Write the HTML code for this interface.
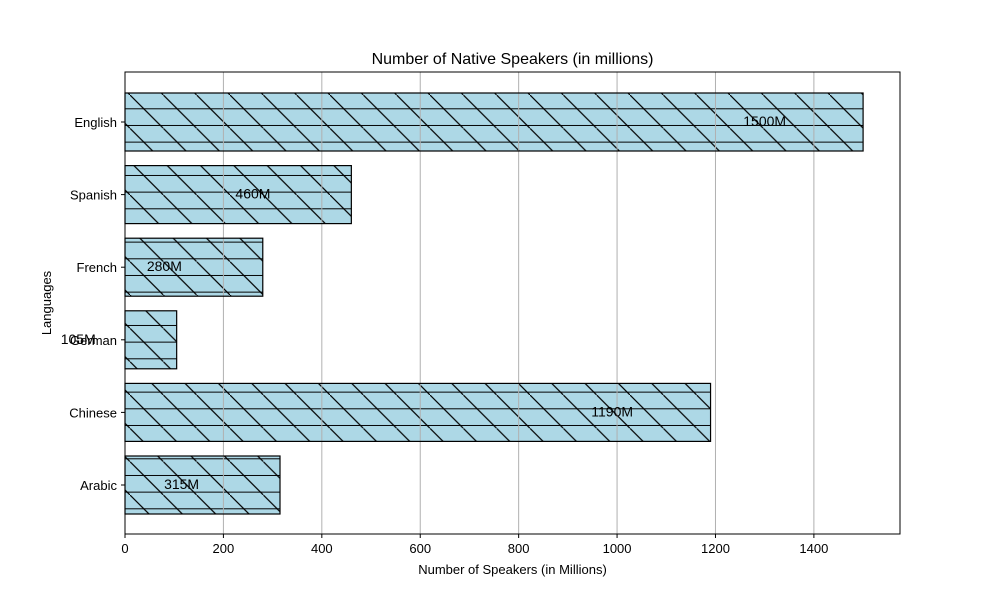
<!DOCTYPE html>
<html><head><meta charset="utf-8"><style>
body{margin:0;background:#fff}
svg text{font-family:"Liberation Sans","DejaVu Sans",sans-serif}
</style></head><body>
<svg id="c" width="1000" height="600" xmlns="http://www.w3.org/2000/svg">
<defs>
<pattern id="hd" patternUnits="userSpaceOnUse" x="130" y="95" width="33.333" height="33.333">
<line x1="-5" y1="-5" x2="38.333" y2="38.333" stroke="#000" stroke-width="1.2"/>
</pattern>
<pattern id="hh" patternUnits="userSpaceOnUse" x="0" y="8.3" width="100" height="16.667">
<line x1="0" y1="0" x2="100" y2="0" stroke="#000" stroke-width="2"/>
</pattern>
</defs>
<g id="plot"></g>
</svg>
<script>
const categories=["English","Spanish","French","German","Chinese","Arabic"];
const values=[1500,460,280,105,1190,315];
const xTicks=[0,200,400,600,800,1000,1200,1400];
const NS="http://www.w3.org/2000/svg";
const L=125,R=900,T=72,B=534,XMAX=1575;
const x=v=>L+v*(R-L)/XMAX;
const step=72.6;
const yc=i=>122+step*i;
const bh=58;
const g=document.getElementById('plot');
function mk(tag,a,txt){const e=document.createElementNS(NS,tag);for(const k in a)e.setAttribute(k,a[k]);if(txt!=null)e.textContent=txt;g.appendChild(e);return e;}
categories.forEach((c,i)=>{
 const w=x(values[i])-L, y=yc(i)-bh/2;
 let r=mk('rect',{x:L,y:y,width:w,height:bh,fill:'#add8e6'});
 
 
 let h1=mk('rect',{x:L,y:y,width:w,height:bh,fill:'url(#hd)'});
 
 
 let h2=mk('rect',{x:L,y:y,width:w,height:bh,fill:'url(#hh)'});
 
 
});
xTicks.forEach(t=>{
 let l=mk('line',{x1:x(t),x2:x(t),y1:T,y2:B,stroke:'#b0b0b0','stroke-width':1});
 
 
});
categories.forEach((c,i)=>{
 const w=x(values[i])-L, y=yc(i)-bh/2;
 let o=mk('rect',{x:L,y:y,width:w,height:bh,fill:'none',stroke:'#000','stroke-width':1.2});
 
 
 let lb=mk('text',{x:x(values[i]-200),y:yc(i)+4,'text-anchor':'middle','font-size':14},values[i]+'M');
 
 
 let tk=mk('line',{x1:L-4,x2:L,y1:yc(i),y2:yc(i),stroke:'#000'});
 
 
 let tl=mk('text',{x:L-8,y:yc(i)+5,'text-anchor':'end','font-size':13},c);
 
 
});
xTicks.forEach(t=>{
 let tk=mk('line',{x1:x(t),x2:x(t),y1:B,y2:B+4,stroke:'#000'});
 
 
 let tl=mk('text',{x:x(t),y:B+19,'text-anchor':'middle','font-size':13},t);
 
 
});
let fr=mk('rect',{x:L,y:T,width:R-L,height:B-T,fill:'none',stroke:'#000','stroke-width':1});


let ti=mk('text',{x:(L+R)/2,y:64,'text-anchor':'middle','font-size':16},'Number of Native Speakers (in millions)');


let xt=mk('text',{x:(L+R)/2,y:574,'text-anchor':'middle','font-size':13},'Number of Speakers (in Millions)');


let yt=mk('text',{x:51,y:(T+B)/2,'text-anchor':'middle','font-size':13,transform:'rotate(-90 51 '+((T+B)/2)+')'},'Languages');


</script>
</body></html>
